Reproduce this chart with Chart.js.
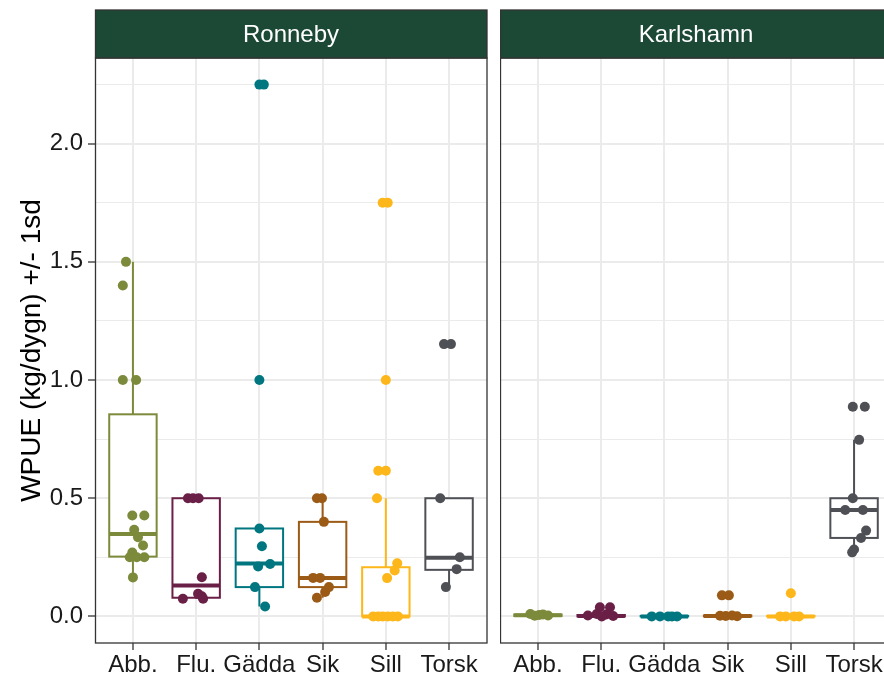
<!DOCTYPE html>
<html>
<head>
<meta charset="utf-8">
<script src="https://cdn.jsdelivr.net/npm/chart.js@4.4.1/dist/chart.umd.min.js"></script>
<style>
  html, body { margin: 0; padding: 0; background: #ffffff; overflow: hidden; width: 884px; height: 677px; }
  #wrap { position: relative; width: 884px; height: 677px; overflow: hidden; }
  canvas { position: absolute; top: 0; }
  #left { left: 0; }
  #right { left: 500px; }
</style>
</head>
<body>
<div id="wrap">
  <canvas id="left" width="488" height="677"></canvas>
  <canvas id="right" width="393" height="677"></canvas>
</div>
<script>
// Species (x categories)
const species = ['Abb.', 'Flu.', 'Gädda', 'Sik', 'Sill', 'Torsk'];
const speciesColors = ['#7C8A3B', '#6A1F47', '#007680', '#9B5B17', '#FDB71A', '#4E5055'];

// Y axis ticks
const yTicks = [0, 0.5, 1.0, 1.5, 2.0];
const yMinorTicks = [0.25, 0.75, 1.25, 1.75, 2.25];

// Ronneby: catch per species
const ronnebyValues = [
  [1.5, 1.4, 1.0, 1.0, 0.427, 0.427, 0.367, 0.335, 0.3, 0.27, 0.25, 0.25, 0.25, 0.165],
  [0.5, 0.5, 0.5, 0.166, 0.096, 0.085, 0.075, 0.075],
  [2.25, 2.25, 1.0, 0.372, 0.297, 0.211, 0.222, 0.124, 0.042],
  [0.5, 0.5, 0.4, 0.163, 0.163, 0.124, 0.103, 0.079],
  [1.75, 1.75, 1.0, 0.616, 0.616, 0.5, 0.225, 0.194, 0.162, 0, 0, 0, 0, 0, 0],
  [1.152, 1.152, 0.5, 0.25, 0.2, 0.124]
];
// horizontal jitter of each Ronneby point (category units)
const ronnebyJitter = [
  [-0.11, -0.16, -0.16, 0.05, -0.01, 0.18, 0.02, 0.08, 0.16, -0.01, -0.05, 0.06, 0.18, 0.0],
  [-0.13, -0.05, 0.04, 0.09, 0.03, 0.09, -0.21, 0.11],
  [0, 0.07, 0, 0, 0.04, -0.02, 0.17, -0.07, 0.09],
  [-0.09, -0.01, 0.02, -0.15, -0.04, 0.1, 0.04, -0.09],
  [-0.05, 0.03, 0, -0.12, 0, -0.14, 0.18, 0.14, 0.02, -0.2, -0.12, -0.05, 0.03, 0.11, 0.19],
  [-0.08, 0.03, -0.14, 0.17, 0.12, -0.05]
];
// Ronneby box summaries
const ronnebyLow    = [0.165, 0.075, 0.042, 0.079, 0,     0.124];
const ronnebyQ1     = [0.253, 0.079, 0.124, 0.124, 0,     0.197];
const ronnebyMedian = [0.349, 0.131, 0.224, 0.163, 0,     0.248];
const ronnebyQ3     = [0.855, 0.5,   0.372, 0.4,   0.208, 0.5];
const ronnebyHigh   = [1.5,   0.5,   0.372, 0.5,   0.5,   0.5];

// Karlshamn: catch per species
const karlshamnValues = [
  [0.01, 0.006, 0.008, 0.004, 0.003],
  [0.039, 0.039, 0.004, 0.01, 0.008, 0.002, 0.0],
  [0, 0, 0, 0, 0],
  [0.089, 0.089, 0.003, 0.002, 0.004, 0.001],
  [0.098, 0, 0, 0, 0],
  [0.887, 0.887, 0.747, 0.5, 0.45, 0.45, 0.363, 0.332, 0.283, 0.271]
];
const karlshamnJitter = [
  [-0.12, 0.02, 0.08, 0.16, -0.05],
  [-0.02, 0.14, -0.21, -0.07, 0.08, 0.19, 0.01],
  [-0.2, -0.07, 0.06, 0.12, 0.2],
  [-0.09, 0.02, -0.12, -0.03, 0.07, 0.15],
  [0, -0.17, -0.08, 0.05, 0.13],
  [-0.02, 0.17, 0.08, -0.02, -0.14, 0.14, 0.19, 0.11, 0, -0.03]
];
const karlshamnLow    = [0,     0,     0,     0,     0,     0.271];
const karlshamnQ1     = [0.002, 0,     0,     0,     0,     0.332];
const karlshamnMedian = [0.005, 0.002, 0,     0.002, 0,     0.45];
const karlshamnQ3     = [0.008, 0.006, 0.002, 0.004, 0.002, 0.5];
const karlshamnHigh   = [0.01,  0.01,  0.003, 0.006, 0.003, 0.747];

const FONT = "'Liberation Sans', Arial, Helvetica, sans-serif";
Chart.defaults.font.family = FONT;

// box-and-whisker layer, drawn under the points
const boxPlugin = {
  id: 'boxes',
  beforeDatasetsDraw(chart, args, opts) {
    const { ctx, scales: { x, y } } = chart;
    ctx.save();
    ctx.beginPath();
    ctx.rect(chart.chartArea.left, chart.chartArea.top, chart.chartArea.width, chart.chartArea.height);
    ctx.clip();
    species.forEach((s, i) => {
      const cx = x.getPixelForValue(i + 1);
      const hw = x.getPixelForValue(i + 1 + 0.375) - cx;
      const yq1 = y.getPixelForValue(opts.q1[i]);
      const yq3 = y.getPixelForValue(opts.q3[i]);
      const ymed = y.getPixelForValue(opts.median[i]);
      const ylo = y.getPixelForValue(opts.low[i]);
      const yhi = y.getPixelForValue(opts.high[i]);
      ctx.strokeStyle = speciesColors[i];
      ctx.lineWidth = 2;
      ctx.lineCap = 'butt';
      ctx.beginPath();
      ctx.moveTo(cx, yq3); ctx.lineTo(cx, yhi);
      ctx.moveTo(cx, yq1); ctx.lineTo(cx, ylo);
      ctx.stroke();
      ctx.fillStyle = '#ffffff';
      ctx.fillRect(cx - hw, yq3, 2 * hw, yq1 - yq3);
      ctx.strokeRect(cx - hw, yq3, 2 * hw, yq1 - yq3);
      ctx.lineWidth = 4;
      ctx.beginPath();
      ctx.moveTo(cx - hw, ymed); ctx.lineTo(cx + hw, ymed);
      ctx.stroke();
    });
    ctx.restore();
  }
};

// facet strip above the panel and the panel border
const panelPlugin = {
  id: 'panel',
  afterDatasetsDraw(chart, args, opts) {
    const { ctx, chartArea: a } = chart;
    ctx.save();
    ctx.strokeStyle = '#333333';
    ctx.lineWidth = 1.3;
    ctx.strokeRect(a.left + 0.5, a.top, a.width - 0.5, a.height);
    const stripTop = 10;
    ctx.fillStyle = '#1B4936';
    ctx.fillRect(a.left, stripTop, a.width, a.top - stripTop);
    ctx.strokeRect(a.left + 0.5, stripTop, a.width - 0.5, a.top - stripTop);
    ctx.fillStyle = '#ffffff';
    ctx.font = '24px ' + FONT;
    ctx.textAlign = 'center';
    ctx.textBaseline = 'middle';
    ctx.fillText(opts.title, (a.left + a.right) / 2, (stripTop + a.top) / 2 + 1);
    ctx.restore();
  }
};

function buildDatasets(values, jitter) {
  return species.map((s, i) => ({
    label: s,
    data: values[i].map((v, k) => ({ x: i + 1 + jitter[i][k], y: v })),
    backgroundColor: speciesColors[i],
    borderWidth: 0,
    pointRadius: 5,
    pointHoverRadius: 5
  }));
}

const isMajor = v => yTicks.some(t => Math.abs(t - v) < 1e-9);

function makeChart(canvasId, title, values, jitter, box, showY) {
  return new Chart(document.getElementById(canvasId), {
    type: 'scatter',
    data: { datasets: buildDatasets(values, jitter) },
    options: {
      responsive: false,
      animation: false,
      events: [],
      layout: { autoPadding: false, padding: { top: 58, right: 1, left: 0, bottom: 0 } },
      plugins: {
        legend: { display: false },
        tooltip: { enabled: false },
        boxes: box,
        panel: { title: title }
      },
      scales: {
        x: {
          type: 'linear',
          min: 0.4,
          max: 6.6,
          afterBuildTicks: sc => { sc.ticks = species.map((s, i) => ({ value: i + 1 })); },
          afterFit: sc => { sc.height = 34; sc.paddingLeft = 0; sc.paddingRight = 0; },
          border: { display: false },
          grid: { color: '#EBEBEB', lineWidth: 2, drawTicks: true, tickLength: 7, tickColor: '#333333', tickWidth: 1.3 },
          ticks: {
            autoSkip: false, maxRotation: 0, minRotation: 0, padding: 1,
            color: '#1a1a1a', font: { size: 24 },
            callback: v => species[Math.round(v) - 1]
          }
        },
        y: {
          min: -0.1125,
          max: 2.3625,
          afterBuildTicks: sc => {
            sc.ticks = yTicks.concat(yMinorTicks).sort((a, b) => a - b).map(v => ({ value: v }));
          },
          afterFit: sc => { sc.width = showY ? 95 : 0; sc.paddingTop = 0; sc.paddingBottom = 0; },
          border: { display: false },
          grid: {
            color: '#EBEBEB',
            lineWidth: c => (c.tick && isMajor(c.tick.value)) ? 2 : 1,
            drawTicks: showY,
            tickLength: 7,
            tickColor: c => (c.tick && isMajor(c.tick.value)) ? '#333333' : 'rgba(0,0,0,0)',
            tickWidth: 1.3
          },
          ticks: {
            display: showY,
            padding: 5,
            color: '#1a1a1a',
            font: { size: 24 },
            callback: v => isMajor(v) ? v.toFixed(1) : ''
          },
          title: {
            display: showY,
            text: 'WPUE (kg/dygn) +/- 1sd',
            color: '#000000',
            font: { size: 28 },
            padding: { top: 15, bottom: 0 }
          }
        }
      }
    },
    plugins: [boxPlugin, panelPlugin]
  });
}

makeChart('left', 'Ronneby', ronnebyValues, ronnebyJitter, {
  low: ronnebyLow, q1: ronnebyQ1, median: ronnebyMedian, q3: ronnebyQ3, high: ronnebyHigh
}, true);

makeChart('right', 'Karlshamn', karlshamnValues, karlshamnJitter, {
  low: karlshamnLow, q1: karlshamnQ1, median: karlshamnMedian, q3: karlshamnQ3, high: karlshamnHigh
}, false);
</script>
</body>
</html>
